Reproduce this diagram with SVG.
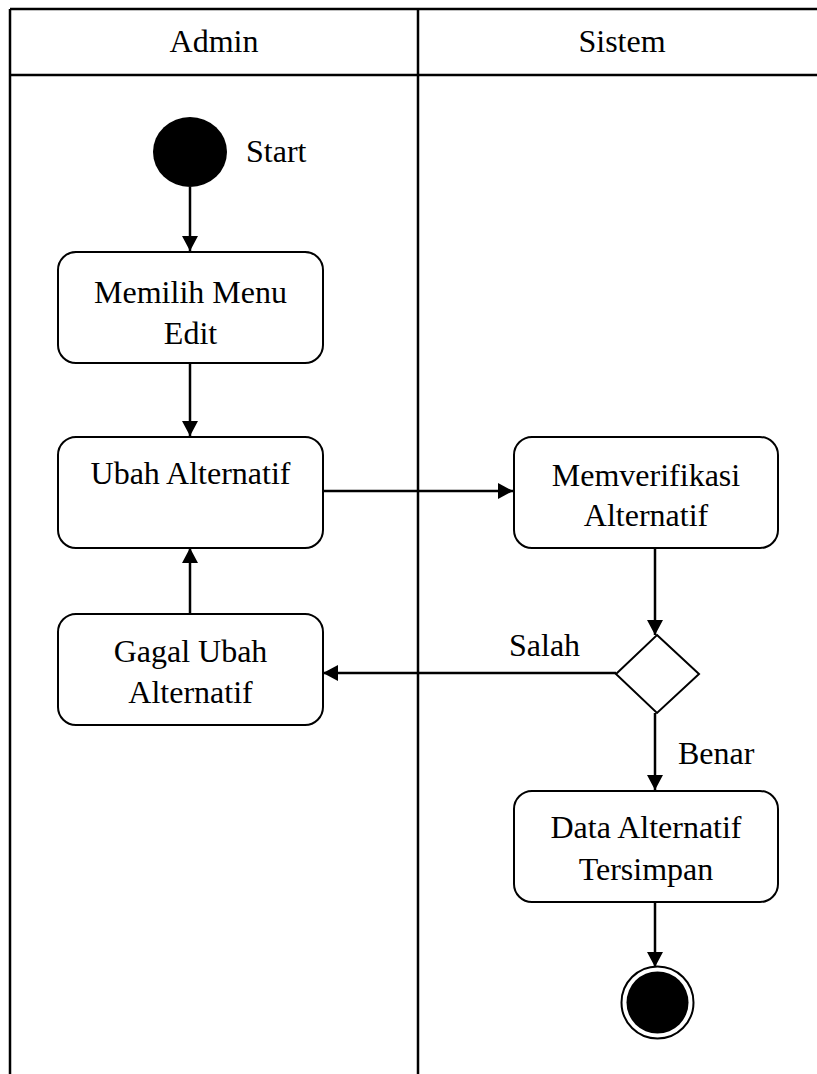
<svg xmlns="http://www.w3.org/2000/svg" width="817" height="1074" viewBox="0 0 817 1074">
<defs>
<style>
.lane{stroke:#000;stroke-width:2.5;fill:none}
.box{fill:#fff;stroke:#000;stroke-width:2}
.con{stroke:#000;stroke-width:2.5;fill:none}
text{font-family:"Liberation Serif","Times New Roman",serif;font-size:32px;fill:#000}
.c{text-anchor:middle}
</style>
<marker id="ah" markerWidth="16" markerHeight="16" refX="15" refY="8" orient="auto" markerUnits="userSpaceOnUse">
<path d="M0,0 L15,8 L0,16 Z" fill="#000"/>
</marker>
</defs>
<rect width="817" height="1074" fill="#fff"/>
<g id="swimlanes">
<line class="lane" x1="10" y1="9" x2="817" y2="9"/>
<line class="lane" x1="10" y1="75" x2="817" y2="75"/>
<line class="lane" x1="10" y1="9" x2="10" y2="1074"/>
<line class="lane" x1="418" y1="9" x2="418" y2="1074"/>
<text class="c" x="214" y="52">Admin</text>
<text class="c" x="622" y="52">Sistem</text>
</g>
<g id="connectors">
<line class="con" x1="190" y1="187" x2="190" y2="251" marker-end="url(#ah)"/>
<line class="con" x1="190" y1="363" x2="190" y2="436" marker-end="url(#ah)"/>
<line class="con" x1="323" y1="491" x2="513" y2="491" marker-end="url(#ah)"/>
<line class="con" x1="655" y1="548" x2="655" y2="635" marker-end="url(#ah)"/>
<line class="con" x1="616" y1="673" x2="323" y2="673" marker-end="url(#ah)"/>
<line class="con" x1="190" y1="614" x2="190" y2="548" marker-end="url(#ah)"/>
<line class="con" x1="655" y1="713" x2="655" y2="790" marker-end="url(#ah)"/>
<line class="con" x1="655" y1="902" x2="655" y2="967" marker-end="url(#ah)"/>
<text x="509" y="656">Salah</text>
<text x="678" y="764">Benar</text>
</g>
<g id="start">
<ellipse cx="190" cy="152" rx="37" ry="35" fill="#000"/>
<text x="246" y="162">Start</text>
</g>
<g id="memilih">
<rect class="box" x="58" y="252" width="265" height="111" rx="18"/>
<text class="c" x="190.5" y="303">Memilih Menu</text>
<text class="c" x="190.5" y="344">Edit</text>
</g>
<g id="ubah">
<rect class="box" x="58" y="437" width="265" height="111" rx="18"/>
<text class="c" x="190.5" y="484">Ubah Alternatif</text>
</g>
<g id="gagal">
<rect class="box" x="58" y="614" width="265" height="111" rx="18"/>
<text class="c" x="190.5" y="662">Gagal Ubah</text>
<text class="c" x="190.5" y="703">Alternatif</text>
</g>
<g id="verifikasi">
<rect class="box" x="514" y="437" width="264" height="111" rx="18"/>
<text class="c" x="646" y="486">Memverifikasi</text>
<text class="c" x="646" y="526">Alternatif</text>
</g>
<g id="decision">
<polygon class="box" points="657,635 699,674 657,713 616,674"/>
</g>
<g id="tersimpan">
<rect class="box" x="514" y="791" width="264" height="111" rx="18"/>
<text class="c" x="646" y="838">Data Alternatif</text>
<text class="c" x="646" y="880">Tersimpan</text>
</g>
<g id="end">
<circle cx="657.5" cy="1002.5" r="36" fill="#fff" stroke="#000" stroke-width="2"/>
<circle cx="657.5" cy="1002.5" r="31" fill="#000"/>
</g>
</svg>
